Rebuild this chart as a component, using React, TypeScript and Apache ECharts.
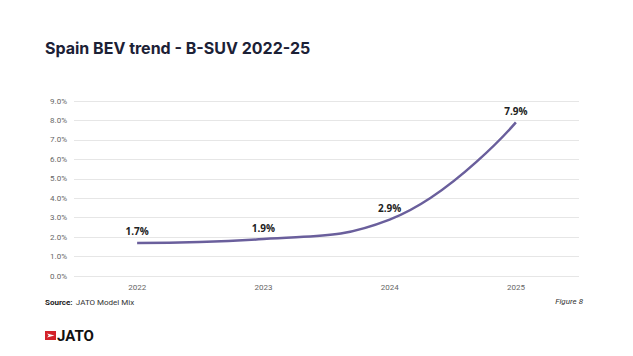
import React, { useEffect, useRef } from "react";
import * as echarts from "echarts";

const categories = ["2022", "2023", "2024", "2025"];
const values = [1.7, 1.9, 2.9, 7.9];
const yTicks = [0, 1, 2, 3, 4, 5, 6, 7, 8, 9];

echarts.graphic.registerShape(
  "jatoArrow",
  echarts.graphic.extendPath("M2 2.5 L9.5 4.5 L2 6.5 L3.8 4.5 Z", {})
);

export default function App() {
  const ref = useRef<HTMLDivElement>(null);
  useEffect(() => {
    if (!ref.current) return;
    const chart = echarts.init(ref.current, null, { renderer: "svg" });
    chart.setOption({
      animation: false,
      backgroundColor: "#ffffff",
      grid: { left: 74, right: 54, top: 101, bottom: 80 },
      xAxis: {
        type: "category",
        data: categories,
        axisLine: { show: false },
        axisTick: { show: false },
        axisLabel: { color: "#666", fontSize: 8, fontFamily: "Roboto", margin: 7 },
      },
      yAxis: {
        type: "value",
        min: yTicks[0],
        max: yTicks[yTicks.length - 1],
        interval: 1,
        axisLine: { show: false },
        axisTick: { show: false },
        splitLine: { lineStyle: { color: "#e6e6e6", width: 1 } },
        axisLabel: {
          color: "#666",
          fontSize: 8,
          fontFamily: "Roboto",
          margin: 7,
          formatter: (v: number) => v.toFixed(1) + "%",
        },
      },
      series: [
        {
          type: "line",
          data: values,
          smooth: 0.45,
          symbol: "circle",
          symbolSize: 1,
          showSymbol: true,
          itemStyle: { color: "rgba(0,0,0,0)" },
          lineStyle: { color: "#6a5f9c", width: 2.5 },
          label: {
            show: true,
            position: "top",
            distance: 6,
            color: "#222",
            fontSize: 10,
            fontWeight: "bold",
            fontFamily: "Open Sans",
            formatter: (p: any) => Number(p.value).toFixed(1) + "%",
          },
        },
      ],
      graphic: [
        {
          type: "text",
          left: 45,
          top: 40,
          style: {
            text: "Spain BEV trend - B-SUV 2022-25",
            fill: "#1c2136",
            fontSize: 16,
            fontWeight: "bold",
            fontFamily: "Inter",
          },
        },
        {
          type: "text",
          left: 45,
          top: 296,
          style: {
            rich: {
              b: { fontWeight: "bold", fontSize: 8, fill: "#222", fontFamily: "Roboto" },
              n: { fontSize: 8, fill: "#333", fontFamily: "Roboto" },
            },
            text: "{b|Source:} {n|JATO Model Mix}",
          },
        },
        {
          type: "text",
          right: 50,
          top: 297,
          style: {
            text: "Figure 8",
            fill: "#333",
            fontSize: 8,
            fontStyle: "italic",
            fontFamily: "Roboto",
          },
        },
        {
          type: "rect",
          shape: { x: 45, y: 331, width: 11, height: 9 },
          style: { fill: "#d3222a" },
        },
        {
          type: "jatoArrow",
          x: 45,
          y: 331,
          scaleX: 1,
          scaleY: 1,
          style: { fill: "#ffffff" },
        },
        {
          type: "text",
          left: 57,
          top: 328,
          style: {
            text: "JATO",
            fill: "#111",
            fontSize: 15,
            fontWeight: "bold",
            fontFamily: "Roboto",
          },
        },
      ],
    });
    return () => chart.dispose();
  }, []);
  return <div ref={ref} style={{ width: 633, height: 356, margin: -8 }} />;
}
